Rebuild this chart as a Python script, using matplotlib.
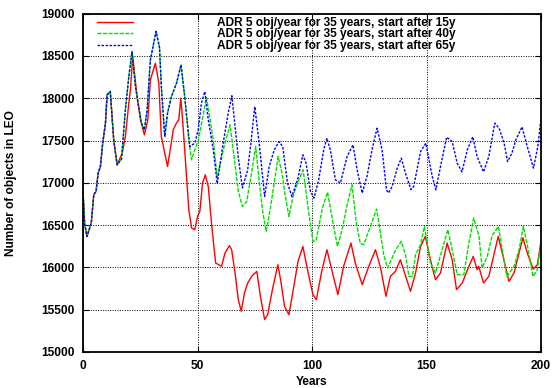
import matplotlib
matplotlib.use('Agg')
import matplotlib.pyplot as plt

# years 0-15: all three runs are identical
common_years = [0, 0.7, 1.7, 3.6, 4.7, 5.7, 6.6, 7.6, 8.6, 9.8, 10.5, 11.9, 13.4, 14.9]
common_vals = [16900, 16520, 16366, 16525, 16860, 16900, 17115, 17193, 17470, 17706, 18040, 18080, 17508, 17213]

# ADR starting after 15 years
red_years = [17.1, 18.5, 20.0, 20.7, 21.7, 23.6, 25.1, 26.8, 28.3, 29.4, 31.6, 33.1, 34.2, 35.7, 36.9, 38.3,
             39.4, 40.8, 41.8, 42.7, 43.7, 45.2, 46.2, 47.4, 48.8, 50.0, 51.0, 52.2, 53.4, 54.7, 56.1, 57.9,
             60.5, 62.0, 63.9, 64.9, 66.4, 67.8, 69.1, 70.5, 71.9, 73.8, 75.9, 77.5, 79.3, 80.6, 82.8, 85.1,
             86.3, 88.0, 89.9, 91.7, 93.9, 96.0, 98.2, 100.4, 101.9, 104.2, 106.5, 108.9, 111.3, 113.8,
             117.0, 118.9, 121.9, 124.8, 127.7, 129.9, 132.3, 134.2, 136.4, 138.6, 140.9, 143.0, 145.2,
             147.4, 149.5, 151.7, 153.9, 156.1, 159.0, 161.2, 163.1, 165.6, 168.5, 170.4, 172.1, 172.8,
             174.9, 177.2, 181.3, 183.8, 186.0, 188.2, 192.1, 194.0, 196.6, 198.4, 200]
red_vals = [17351, 17547, 17942, 18099, 18492, 18020, 17745, 17567, 17745, 18217, 18414, 18178, 17547, 17351,
            17193, 17429, 17627, 17706, 17745, 18001, 17666, 17075, 16682, 16466, 16446, 16603, 16662, 16997,
            17095, 16957, 16525, 16052, 16013, 16170, 16257, 16210, 15934, 15619, 15481, 15698, 15816, 15900,
            15953, 15650, 15383, 15440, 15750, 16032, 15850, 15540, 15442, 15720, 16072, 16248, 15950, 15678,
            15619, 15950, 16209, 15940, 15678, 16013, 16288, 16052, 15796, 16013, 16209, 16000, 15658, 15894,
            15953, 16091, 15894, 15717, 15934, 16248, 16367, 16091, 15855, 15934, 16288, 16091, 15737, 15816,
            16013, 16131, 15973, 16013, 15816, 15894, 16367, 16090, 15835, 15934, 16350, 16170, 15980, 16032,
            16300]

# years 15-43: the 40y and 65y runs are identical
shared_years = [16.8, 18.5, 20.0, 21.4, 22.9, 24.3, 25.5, 26.8, 28.0, 29.4, 31.9, 33.4, 34.2, 35.7, 36.9,
                38.6, 40.8, 42.8]
shared_vals = [17280, 17863, 18256, 18551, 18138, 17902, 17706, 17627, 17863, 18453, 18790, 18600, 18138,
               17547, 17824, 18020, 18177, 18394]

# ADR starting after 40 years
green_years = [44.4, 46.2, 47.4, 48.8, 50.3, 52.3, 53.9, 55.4, 56.9, 58.6, 60.5, 62.0, 64.2, 66.0, 67.8,
               69.6, 71.5, 73.5, 75.4, 77.0, 78.5, 80.0, 81.8, 83.5, 85.2, 86.9, 88.3, 89.9, 91.8, 93.7,
               96.1, 98.3, 100.4, 101.8, 104.5, 106.8, 109.0, 111.1, 113.2, 115.4, 117.5, 119.2, 121.1,
               122.6, 124.6, 128.2, 129.8, 131.3, 133.0, 136.4, 139.0, 140.8, 142.3, 143.8, 145.2, 147.4,
               149.1, 151.7, 153.9, 156.8, 159.3, 161.2, 163.4, 166.3, 168.5, 170.6, 172.9, 174.3, 176.5,
               178.7, 181.4, 183.8, 185.1, 188.2, 190.4, 192.3, 194.1, 196.5, 198.4, 200]
green_vals = [18020, 17508, 17272, 17390, 17500, 17780, 18010, 17760, 17500, 17060, 17300, 17470, 17686,
              17300, 16900, 16721, 16780, 17100, 17429, 17000, 16650, 16426, 16700, 17000, 17311, 17115,
              16850, 16603, 16850, 17000, 17154, 16700, 16308, 16320, 16700, 16890, 16550, 16250, 16450,
              16750, 16977, 16550, 16280, 16270, 16420, 16690, 16420, 16150, 15993, 16200, 16308, 16150,
              15894, 15894, 16150, 16270, 16485, 16050, 15934, 16210, 16446, 16210, 15914, 15914, 16290,
              16584, 16370, 15993, 16130, 16380, 16485, 16090, 15894, 16010, 16210, 16485, 16250, 15894,
              15973, 16328]

# ADR starting after 65 years
blue_years = [44.4, 46.6, 48.8, 50.3, 51.7, 53.2, 54.7, 56.9, 58.6, 61.2, 63.4, 65.0, 66.4, 67.8, 69.6,
              71.9, 73.3, 75.0, 77.0, 79.3, 81.3, 83.5, 85.6, 87.2, 89.3, 91.2, 93.7, 96.0, 97.4, 99.3,
              100.9, 102.9, 105.1, 106.5, 108.0, 110.2, 112.4, 115.3, 117.9, 119.7, 121.9, 124.0, 126.2,
              128.4, 130.6, 132.5, 133.4, 135.0, 137.2, 139.0, 140.8, 143.2, 144.4, 147.4, 149.7, 152.5,
              154.1, 156.1, 158.8, 161.2, 163.4, 165.5, 167.8, 170.2, 172.1, 174.9, 177.2, 179.8, 181.7,
              183.9, 185.4, 187.3, 189.0, 191.7, 194.0, 196.7, 198.6, 200]
blue_vals = [18020, 17429, 17469, 17627, 17942, 18079, 17745, 17390, 16990, 17469, 17824, 18030, 17666,
             17300, 16940, 17154, 17469, 17902, 17450, 16839, 17193, 17390, 17488, 17429, 16997, 16839,
             17036, 17331, 17233, 16900, 16820, 17036, 17390, 17528, 17390, 17036, 16997, 17311, 17449,
             17154, 16879, 17075, 17390, 17646, 17390, 16918, 16880, 16957, 17174, 17292, 17115, 16920,
             16957, 17370, 17469, 17075, 16918, 17193, 17540, 17488, 17233, 17130, 17390, 17545, 17311,
             17130, 17311, 17706, 17646, 17469, 17252, 17351, 17508, 17662, 17429, 17174, 17429, 17765]

labels = ['ADR 5 obj/year for 35 years, start after 15y',
          'ADR 5 obj/year for 35 years, start after 40y',
          'ADR 5 obj/year for 35 years, start after 65y']
x_ticks = [0, 50, 100, 150, 200]
y_ticks = [15000, 15500, 16000, 16500, 17000, 17500, 18000, 18500, 19000]

plt.rcParams['font.family'] = ['Liberation Sans', 'DejaVu Sans']
plt.rcParams['font.weight'] = 'bold'

fig = plt.figure(figsize=(5.52, 3.88), dpi=100)
ax = fig.add_axes([0.1504, 0.0928, 0.8297, 0.8719])

# build each run from its shared prefix
x_red = common_years + red_years
y_red = common_vals + red_vals
x_green = common_years + shared_years + green_years
y_green = common_vals + shared_vals + green_vals
x_blue = common_years + shared_years + blue_years
y_blue = common_vals + shared_vals + blue_vals

ax.plot(x_red, y_red, color='#ff0000', linewidth=1.0, label=labels[0])
ax.plot(x_green, y_green, color='#00e000', linewidth=1.0, dashes=(3, 1), label=labels[1])
ax.plot(x_blue, y_blue, color='#0000ff', linewidth=1.0, dashes=(1.8, 1.1), label=labels[2])

ax.set_xlim(0, 200)
ax.set_ylim(15000, 19000)
ax.set_xticks(x_ticks)
ax.set_yticks(y_ticks)
ax.grid(True, color='black', linestyle=(0, (1, 1.5)), linewidth=0.7)
ax.tick_params(direction='in', length=4, width=0.8, top=True, right=True, labelsize=8.6, pad=6)
for sp in ax.spines.values():
    sp.set_linewidth(1.3)

ax.set_xlabel('Years', fontsize=8.6, fontweight='bold')
ax.xaxis.set_label_coords(0.5, -0.07)
ax.set_ylabel('Number of objects in LEO', fontsize=8.6, fontweight='bold')
ax.yaxis.set_label_coords(-0.145, 0.5)

leg = ax.legend(loc='upper left', bbox_to_anchor=(0.03, 0.99), frameon=False, fontsize=8.6,
                handlelength=3.0, handletextpad=7.1, labelspacing=-0.05, borderpad=0, borderaxespad=0)
for t in leg.get_texts():
    t.set_fontweight('bold')

fig.savefig('out.png', dpi=100)
